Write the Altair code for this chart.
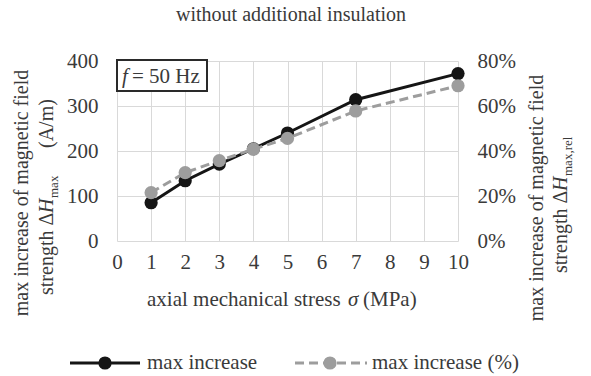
import altair as alt
import pandas as pd

# Measured series
stress = [1, 2, 3, 4, 5, 7, 10]                              # axial stress, MPa
dh_max = [85, 134, 171, 205, 240, 314, 372]                  # max increase, A/m
dh_rel = [0.215, 0.304, 0.357, 0.408, 0.456, 0.578, 0.690]   # max increase, relative

series_names = ["max increase", "max increase (%)"]
x_ticks = list(range(0, 11))
y_ticks = [0, 100, 200, 300, 400]
rel_ticks = [0, 0.2, 0.4, 0.6, 0.8]

FONT = "Liberation Serif"
BLACK = "#151515"
GRAY = "#9d9d9d"
TEXT = "#3a3a3a"
GRID = "#d9d9d9"

W, H = 341, 180
PAD = {"left": 117, "top": 61, "right": 133, "bottom": 135}
X_MAX, Y_MAX = 10, 400


def dx(px):
    """Horizontal page position -> stress units."""
    return (px - PAD["left"]) / W * X_MAX


def dy(py):
    """Vertical page position -> A/m units."""
    return (PAD["top"] + H - py) / H * Y_MAX


df = pd.DataFrame({"stress": stress, "dh": dh_max, "rel": dh_rel})

X_SCALE = alt.Scale(domain=[0, X_MAX], nice=False, zero=False)
X_AXIS = alt.Axis(values=x_ticks, grid=True, gridColor=GRID, gridWidth=1,
                  domain=False, ticks=False, tickSize=0, labelPadding=10,
                  labelFont=FONT, labelFontSize=21, labelColor=TEXT,
                  labelFlush=False, labelOverlap=False, title=None)

x_enc = alt.X("stress:Q", scale=X_SCALE, axis=X_AXIS)

# absolute series (left axis)
y_abs = alt.Y(
    "dh:Q",
    scale=alt.Scale(domain=[0, Y_MAX], nice=False),
    axis=alt.Axis(values=y_ticks, grid=True, gridColor=GRID, gridWidth=1,
                  domain=False, ticks=False, tickSize=0, labelPadding=19,
                  labelFont=FONT, labelFontSize=21, labelColor=TEXT,
                  labelOverlap=False, title=None),
)
abs_layer = alt.layer(
    alt.Chart(df).mark_line(color=BLACK, strokeWidth=3).encode(x=x_enc, y=y_abs),
    alt.Chart(df).mark_circle(color=BLACK, size=175, opacity=1).encode(x=x_enc, y=y_abs),
)

# relative series (right axis)
y_rel = alt.Y(
    "rel:Q",
    scale=alt.Scale(domain=[0, 0.8], nice=False),
    axis=alt.Axis(orient="right", values=rel_ticks, format=".0%", grid=False,
                  domain=False, ticks=False, tickSize=0, labelPadding=19,
                  labelFont=FONT, labelFontSize=21, labelColor=TEXT,
                  labelOverlap=False, title=None),
)
rel_layer = alt.layer(
    alt.Chart(df).mark_line(color=GRAY, strokeWidth=3, strokeDash=[9, 5]).encode(x=x_enc, y=y_rel),
    alt.Chart(df).mark_circle(color=GRAY, size=175, opacity=1).encode(x=x_enc, y=y_rel),
)

# text placed around the plot: (text, x px, y px, size, style, angle, align, baseline)
pieces = [
    ("without additional insulation", 291, 15, 20, "normal", 0, "center", "middle"),
    ("axial mechanical stress", 147, 300, 21, "normal", 0, "left", "middle"),
    ("\u03c3", 348, 300, 21, "italic", 0, "left", "middle"),
    ("(MPa)", 363, 300, 21, "normal", 0, "left", "middle"),
    # left axis title
    ("max increase of magnetic field", 28, 193, 20, "normal", 270, "center", "alphabetic"),
    ("strength \u0394", 53, 295, 20, "normal", 270, "left", "alphabetic"),
    ("H", 53, 213, 20, "italic", 270, "left", "alphabetic"),
    ("max", 58, 198, 13, "normal", 270, "left", "alphabetic"),
    ("(A/m)", 53, 148, 20, "normal", 270, "left", "alphabetic"),
    # right axis title
    ("max increase of magnetic field", 543, 198, 20, "normal", 270, "center", "alphabetic"),
    ("strength \u0394", 567, 273, 20, "normal", 270, "left", "alphabetic"),
    ("H", 567, 191, 20, "italic", 270, "left", "alphabetic"),
    ("max,rel", 572, 176, 13, "normal", 270, "left", "alphabetic"),
    # frequency note
    ("f", 122, 77, 21, "italic", 0, "left", "middle"),
    ("= 50 Hz", 132, 77, 21, "normal", 0, "left", "middle"),
    # legend labels
    (series_names[0], 147, 363, 21, "normal", 0, "left", "middle"),
    (series_names[1], 372, 363, 21, "normal", 0, "left", "middle"),
]
tdf = pd.DataFrame(pieces, columns=["text", "px", "py", "fs", "style", "angle", "align", "baseline"])
tdf["x"] = tdf["px"].map(dx)
tdf["y"] = tdf["py"].map(dy)

xa = alt.X("x:Q", scale=X_SCALE, axis=X_AXIS)
ya = alt.Y("y:Q", scale=alt.Scale(domain=[0, Y_MAX], nice=False), axis=None)

# frequency box
box_df = pd.DataFrame({"x": [dx(117)], "x2": [dx(207)], "y": [dy(60)], "y2": [dy(91)]})
box = alt.Chart(box_df).mark_rect(fill="white", stroke="#2a2a2a", strokeWidth=2).encode(
    x=xa, x2="x2:Q", y=ya, y2="y2:Q")

# legend keys
leg_df = pd.DataFrame({
    "series": series_names,
    "x": [dx(70), dx(295)],
    "x2": [dx(140), dx(367)],
    "xc": [dx(105), dx(330)],
    "y": [dy(363), dy(363)],
})
leg_solid = alt.Chart(leg_df).transform_filter(alt.datum.series == series_names[0]).mark_rule(
    color=BLACK, strokeWidth=3).encode(x=xa, x2="x2:Q", y=ya)
leg_dash = alt.Chart(leg_df).transform_filter(alt.datum.series == series_names[1]).mark_rule(
    color=GRAY, strokeWidth=3, strokeDash=[9, 5]).encode(x=xa, x2="x2:Q", y=ya)
leg_dots = alt.Chart(leg_df).mark_circle(size=175, opacity=1).encode(
    x=alt.X("xc:Q", scale=X_SCALE, axis=X_AXIS),
    y=ya,
    color=alt.Color("series:N", scale=alt.Scale(domain=series_names, range=[BLACK, GRAY]), legend=None),
)

texts = []
for (style, align, baseline), g in tdf.groupby(["style", "align", "baseline"]):
    texts.append(
        alt.Chart(g).mark_text(font=FONT, fontStyle=style, align=align, baseline=baseline, color=TEXT).encode(
            x=xa, y=ya, text="text:N",
            angle=alt.Angle("angle:Q", scale=None),
            size=alt.Size("fs:Q", scale=None),
        )
    )

notes = alt.layer(box, leg_solid, leg_dash, leg_dots, *texts)

chart = (
    alt.layer(abs_layer, rel_layer, notes)
    .resolve_scale(y="independent", color="independent")
    .properties(
        width=W, height=H,
        autosize=alt.AutoSizeParams(type="none"),
        padding=PAD,
        background="white",
    )
    .configure_view(stroke=None)
)

chart.save("out.html", embed_options={"renderer": "svg", "actions": False})
